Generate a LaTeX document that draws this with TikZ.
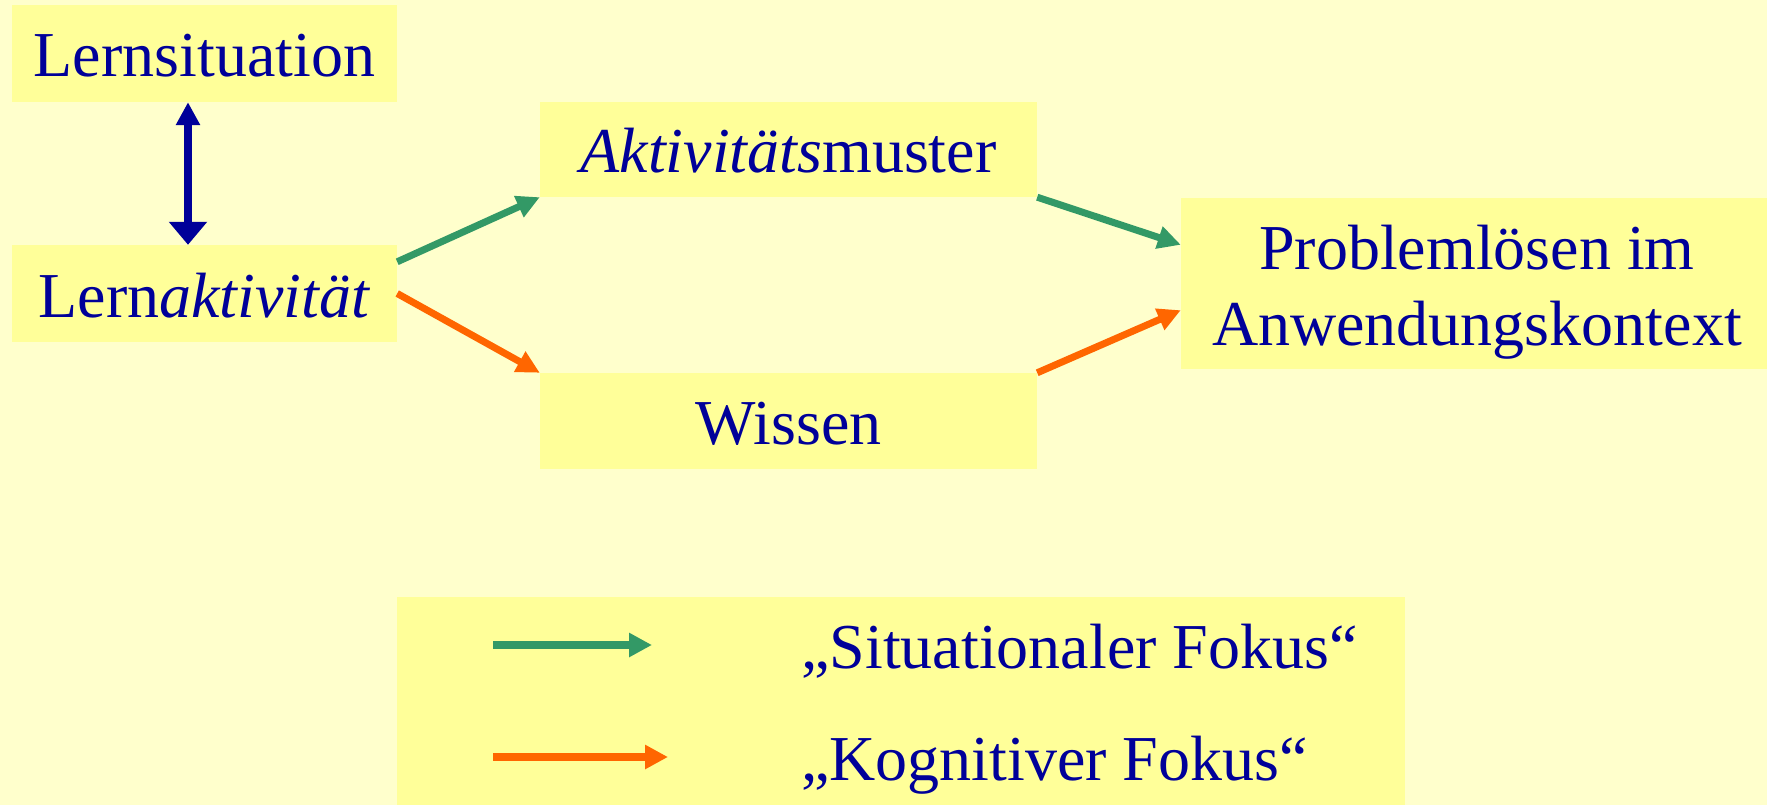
\documentclass[tikz,border=0pt]{standalone}
\usepackage{fontspec}
\setmainfont{Liberation Serif}
\usetikzlibrary{arrows.meta}
\definecolor{bgc}{HTML}{FFFFCC}
\definecolor{boxc}{HTML}{FFFF99}
\definecolor{txtc}{HTML}{000099}
\definecolor{grn}{HTML}{339966}
\definecolor{org}{HTML}{FF6600}
\begin{document}
\begin{tikzpicture}[x=1pt,y=-1pt,
  box/.style={fill=boxc, inner sep=0pt, text=txtc, font=\fontsize{64}{76}\selectfont},
  lbl/.style={text height=47pt, text depth=0pt},
  txt/.style={inner sep=0pt, text=txtc, font=\fontsize{64}{76}\selectfont},
  garrow/.style={draw=grn, line width=7pt, -{Triangle[length=23pt,width=22pt]}},
  oarrow/.style={draw=org, line width=7pt, -{Triangle[length=23pt,width=22pt]}},
  barrow/.style={draw=txtc, line width=8pt, {Triangle[length=23pt,width=23pt]}-{Triangle[length=23pt,width=37pt]}},
  glegend/.style={draw=grn, line width=8pt, -{Triangle[length=23pt,width=23pt]}},
  olegend/.style={draw=org, line width=8pt, -{Triangle[length=23pt,width=23pt]}}]
\fill[bgc] (0,0) rectangle (1767,805);
\useasboundingbox (0,0) rectangle (1767,805);
\node[box,lbl,minimum width=385pt,minimum height=97pt] (lsit) at (204.5,53.5) {Lernsituation};
\node[box,lbl,minimum width=385pt,minimum height=97pt] (lakt) at (204.5,293.5) {Lern\textit{aktivität}};
\node[box,lbl,minimum width=497pt,minimum height=95pt] (akt) at (788.5,149.5) {\textit{Aktivitäts}muster};
\node[box,lbl,minimum width=497pt,minimum height=96pt] (wis) at (788.5,421) {Wissen};
\node[box,minimum width=586pt,minimum height=171pt] (prob) at (1474,283.5) {};
\node[txt,align=center,yshift=-8.6pt,xshift=3pt] (probtxt) at (prob.center) {Problemlösen im\\Anwendungskontext};
\node[box,minimum width=1008pt,minimum height=208pt] (legend) at (901,701) {};
\coordinate (g1) at (493,645);
\coordinate (g2) at (652,645);
\coordinate (o1) at (493,757);
\coordinate (o2) at (668,757);
\node[txt,anchor=base west] (sfok) at (801,668) {„Situationaler Fokus“};
\node[txt,anchor=base west] (kfok) at (801,780) {„Kognitiver Fokus“};
\draw[barrow] ([xshift=-16.5pt]lsit.south) -- ([xshift=-16.5pt]lakt.north);
\draw[garrow] ([yshift=-17pt]lakt.north east) -- (akt.south west);
\draw[oarrow] (lakt.east) -- (wis.north west);
\draw[garrow] (akt.south east) -- ([yshift=-47pt]prob.north west);
\draw[oarrow] (wis.north east) -- ([yshift=59pt]prob.south west);
\draw[glegend] (g1) -- (g2);
\draw[olegend] (o1) -- (o2);
\end{tikzpicture}
\end{document}
